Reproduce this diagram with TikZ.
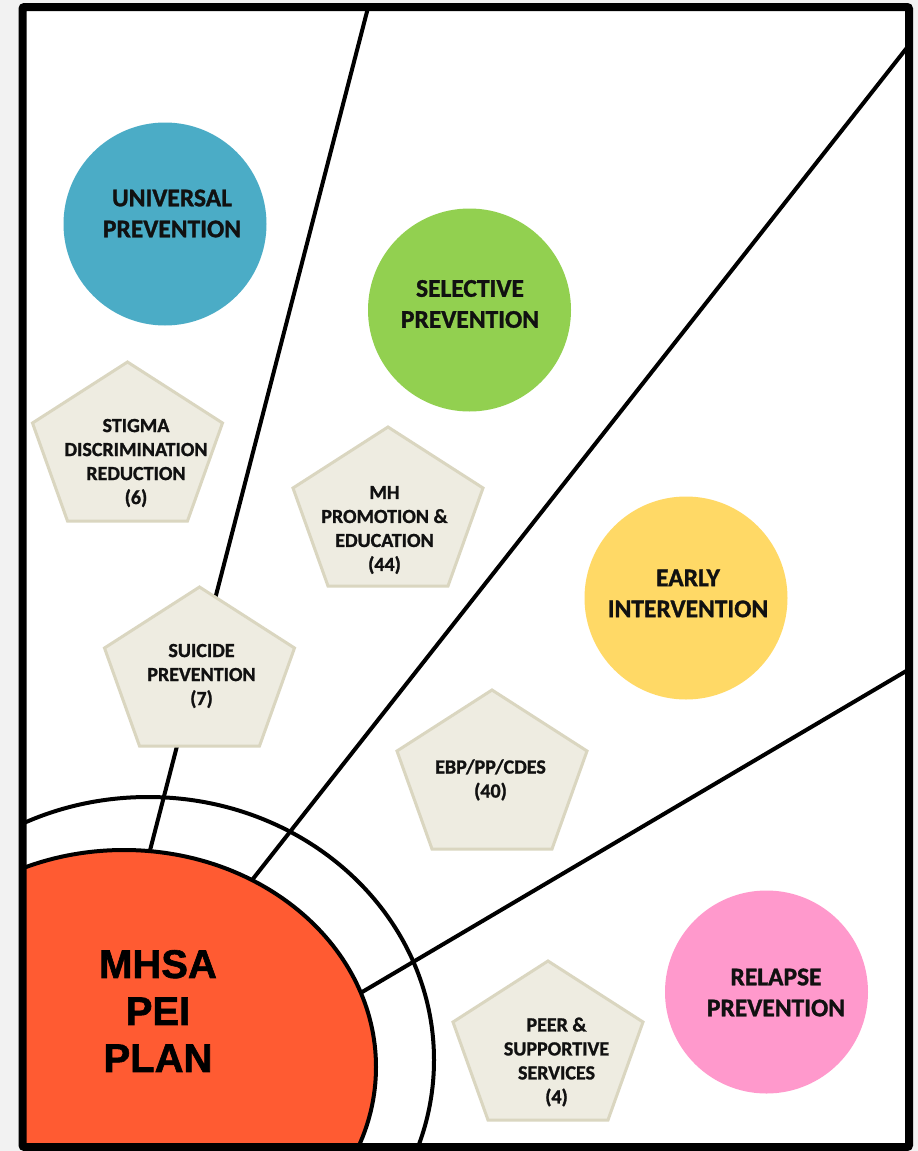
\documentclass[tikz,border=0pt]{standalone}
\usepackage{fontspec}
\setmainfont{Carlito}[BoldFeatures={FakeBold=1.2}]
\newfontfamily\planfont{Liberation Sans}[BoldFeatures={FakeBold=1.5}]
\definecolor{bggray}{HTML}{F2F2F2}
\definecolor{univblue}{HTML}{4BACC6}
\definecolor{selgreen}{HTML}{92D050}
\definecolor{earlyyellow}{HTML}{FFD966}
\definecolor{relpink}{HTML}{FF99CC}
\definecolor{planorange}{HTML}{FF5B32}
\definecolor{pentafill}{HTML}{EEECE1}
\definecolor{pentaedge}{HTML}{DAD6C0}
\definecolor{inktext}{HTML}{111111}
\newcommand\pentshape[3]{%
  \draw[pentaline] (#2,#3) -- ++(95,61) -- ++(-35,98) -- ++(-120,0) -- ++(-35,-98) -- cycle;
  \coordinate (#1) at (#2,#3+80);}
\begin{document}
\begin{tikzpicture}[x=1pt,y=-1pt,
  bubble/.style={circle, minimum size=203pt, inner sep=0pt},
  bubtext/.style={font=\fontsize{25.5}{31}\selectfont\bfseries, align=center, text=inktext, inner sep=0pt},
  pentaline/.style={draw=pentaedge, fill=pentafill, line width=3pt, line join=miter},
  pentatext/.style={font=\fontsize{20}{24}\selectfont\bfseries, align=center, text=inktext, inner sep=0pt},
  ray/.style={line width=4pt},
  ring/.style={line width=4pt},
  plantext/.style={font=\planfont\bfseries\fontsize{40}{47}\selectfont, align=center, inner sep=0pt, text=black}]

\fill[bggray] (0,0) rectangle (918,1151);
\useasboundingbox (0,0) rectangle (918,1151);
\fill[white] (22.5,7) rectangle (909,1147);

% rays, rings and central plan
\begin{scope}
  \clip (22.5,7) rectangle (909,1147);
  \draw[ring] (148,1060) ellipse [x radius=286, y radius=263];
  \coordinate (r1in) at (147,862);
  \coordinate (r1out) at (370,0);
  \coordinate (r2in) at (245,889);
  \coordinate (r2out) at (913,40);
  \coordinate (r3in) at (352,998);
  \coordinate (r3out) at (913,667);
  \draw[ray] (r1in) -- (r1out);
  \draw[ray] (r2in) -- (r2out);
  \draw[ray] (r3in) -- (r3out);
  \draw[ring, fill=planorange] (124,1067) ellipse [x radius=252, y radius=217];
  \node[plantext] (plan) at (158,1011) {MHSA\\PEI\\PLAN};
\end{scope}

% prevention circles
\node[bubble, fill=univblue] (univ) at (165,224) {};
\node[bubtext] (univt) at (172,213.5) {UNIVERSAL\\PREVENTION};
\node[bubble, fill=selgreen] (sel) at (469.5,310) {};
\node[bubtext] (selt) at (470,304) {SELECTIVE\\PREVENTION};
\node[bubble, fill=earlyyellow] (early) at (686,598) {};
\node[bubtext] (earlyt) at (688,593.5) {EARLY\\INTERVENTION};
\node[bubble, fill=relpink] (rel) at (766.5,992) {};
\node[bubtext] (relt) at (776,992.5) {RELAPSE\\PREVENTION};

% pentagons
\pentshape{stigma}{127.5}{362}
\node[pentatext] (stigmat) at (136,463) {STIGMA\\DISCRIMINATION\\REDUCTION\\(6)};
\pentshape{mhprom}{388}{427}
\node[pentatext] (mhpromt) at (384.5,530) {MH\\PROMOTION \&\\EDUCATION\\(44)};
\pentshape{suicide}{199.5}{587}
\node[pentatext] (suicidet) at (201.5,676) {SUICIDE\\PREVENTION\\(7)};
\pentshape{ebp}{492}{690}
\node[pentatext] (ebpt) at (490.5,780) {EBP/PP/CDES\\(40)};
\pentshape{peer}{548}{961}
\node[pentatext] (peert) at (556.5,1062) {PEER \&\\SUPPORTIVE\\SERVICES\\(4)};

% frame
\draw[line width=8pt, rounded corners=2pt] (22.5,7) rectangle (909,1147);
\end{tikzpicture}
\end{document}
